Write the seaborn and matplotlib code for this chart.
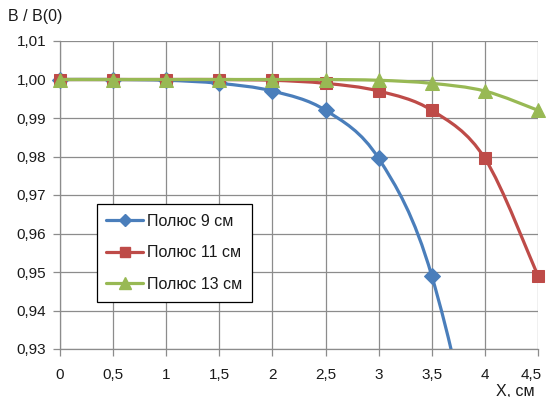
import numpy as np
import pandas as pd
import seaborn as sns
import matplotlib
matplotlib.use("Agg")
import matplotlib.pyplot as plt
from matplotlib.path import Path
from matplotlib.patches import PathPatch, Rectangle
from matplotlib.lines import Line2D
from matplotlib.transforms import ScaledTranslation

x_cm = [0, 0.5, 1, 1.5, 2, 2.5, 3, 3.5, 4, 4.5]
pole_9 = [1.0, 1.0, 0.9998, 0.999, 0.997, 0.992, 0.9795, 0.949, 0.885, 0.78]
pole_11 = [1.0, 1.0, 1.0, 1.0, 0.9998, 0.999, 0.997, 0.992, 0.9795, 0.949]
pole_13 = [1.0, 1.0, 1.0, 1.0, 1.0, 1.0, 0.9998, 0.999, 0.997, 0.992]
labels = ["Полюс 9 см", "Полюс 11 см", "Полюс 13 см"]
y_ticks = [0.93, 0.94, 0.95, 0.96, 0.97, 0.98, 0.99, 1.00, 1.01]
x_ticks = [0, 0.5, 1, 1.5, 2, 2.5, 3, 3.5, 4, 4.5]

colors = ["#4A7EBB", "#BE4B48", "#98B954"]
markers = ["D", "s", "^"]
msizes = [8, 9, 10.5]

sns.set_theme(style="white")
plt.rcParams["font.family"] = ["Liberation Sans", "DejaVu Sans"]

fig = plt.figure(figsize=(5.47, 3.97), dpi=100)
ax = fig.add_axes([60 / 547, 1 - 349 / 397, 478 / 547, 308 / 397])

def smooth_path(xs, ys):
    P = np.column_stack([xs, ys])
    n = len(P)
    verts = [P[0]]
    codes = [Path.MOVETO]
    for i in range(n - 1):
        p_prev = P[i - 1] if i > 0 else P[i]
        p_next2 = P[i + 2] if i + 2 < n else P[i + 1]
        c1 = P[i] + (P[i + 1] - p_prev) / 6.0
        c2 = P[i + 1] - (p_next2 - P[i]) / 6.0
        verts += [c1, c2, P[i + 1]]
        codes += [Path.CURVE4] * 3
    return Path(verts, codes)

# clip region: full height of the axes, widened horizontally so edge markers show whole
clip_rect = Rectangle((-0.05, 0), 1.1, 1, transform=ax.transAxes, facecolor="none", edgecolor="none")
ax.add_patch(clip_rect)
clip_rect.set_visible(False)

series = [pole_9, pole_11, pole_13]
handles = []
for k, ys in enumerate(series):
    z = 3 + 2 * k
    patch = PathPatch(smooth_path(x_cm, ys), fill=False, edgecolor=colors[k],
                      linewidth=2.3, zorder=z, capstyle="round", joinstyle="round")
    ax.add_patch(patch)
    patch.set_clip_path(clip_rect)
    df = pd.DataFrame({"x": x_cm, "y": ys})
    n_before = len(ax.lines)
    sns.lineplot(data=df, x="x", y="y", ax=ax, color=colors[k], marker=markers[k],
                 markersize=msizes[k], markeredgecolor=colors[k], linestyle="none",
                 zorder=z + 1)
    for ln in ax.lines[n_before:]:
        ln.set_clip_path(clip_rect)
    handles.append(Line2D([], [], color=colors[k], linewidth=2.3, marker=markers[k],
                          markersize=msizes[k] * 0.8, markeredgecolor=colors[k]))

ax.set_xlim(0, 4.5)
ax.set_ylim(0.93, 1.01)
ax.set_xticks(x_ticks)
ax.set_xticklabels([("%g" % v).replace(".", ",") for v in x_ticks])
ax.set_yticks(y_ticks)
ax.set_yticklabels([("%.2f" % v).replace(".", ",") for v in y_ticks])
ax.set_xlabel("")
ax.set_ylabel("")

grid_c = "#8C8C8C"
ax.grid(True, color=grid_c, linewidth=0.9)
ax.set_axisbelow(True)
for side in ["top", "right"]:
    ax.spines[side].set_visible(False)
for side in ["left", "bottom"]:
    ax.spines[side].set_color(grid_c)
    ax.spines[side].set_linewidth(0.9)
ax.tick_params(axis="both", which="both", direction="out", length=5, width=0.9,
               color=grid_c, labelsize=11, labelcolor="#1a1a1a", bottom=True, left=True)
ax.tick_params(axis="x", pad=9)
ax.tick_params(axis="y", pad=5)

# nudge the last x tick label so it stays inside the picture
last_lbl = ax.get_xticklabels()[-1]
last_lbl.set_transform(last_lbl.get_transform() + ScaledTranslation(-5 / 72, 0, fig.dpi_scale_trans))

leg = ax.legend(handles, labels, loc="upper left", bbox_to_anchor=(0.077, 0.471),
                borderaxespad=0, frameon=True, fancybox=False, edgecolor="black",
                framealpha=1, fontsize=11.5, handlelength=2.3, handletextpad=0.25,
                labelspacing=1.05, borderpad=0.6)
leg.get_frame().set_linewidth(0.9)
leg.set_zorder(20)
for t in leg.get_texts():
    t.set_color("#1a1a1a")

fig.text(8 / 547, 1 - 17 / 397, "B / B(0)", fontsize=11.5, va="center", ha="left", color="#1a1a1a")
fig.text(535 / 547, 1.5 / 397, "X, см", fontsize=11.5, va="baseline", ha="right", color="#1a1a1a")

fig.savefig("out.png", dpi=100, facecolor="white")
